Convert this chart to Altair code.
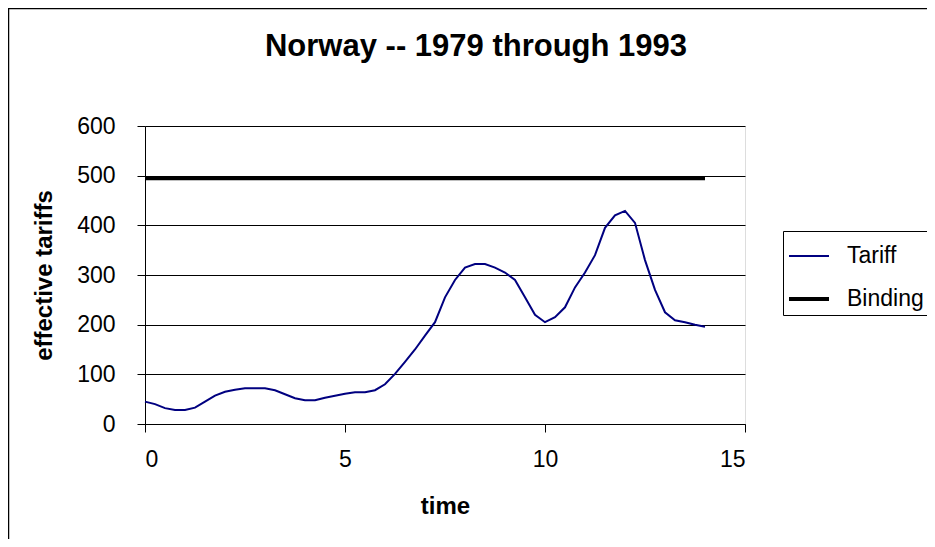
import altair as alt
import pandas as pd

# quarterly time steps 0 .. 14
time = [i * 0.25 for i in range(57)]
tariff = [45, 40, 32, 28, 28, 33, 45, 57, 65, 69, 72, 72, 72, 68, 60, 52,
          48, 48, 53, 57, 61, 64, 64, 68, 80, 101, 125, 150, 178, 205, 255, 290,
          315, 322, 322, 315, 305, 290, 255, 220, 205, 215, 235, 275, 305, 340, 395, 420,
          429, 405, 330, 270, 225, 209, 205, 200, 196]
binding = [495] * 57
series_names = ["Tariff", "Binding"]
x_ticks = [0, 5, 10, 15]
y_ticks = [0, 100, 200, 300, 400, 500, 600]

rows = []
for t, v in zip(time, tariff):
    rows.append({"time": t, "value": v, "series": "Tariff"})
for t, v in zip(time, binding):
    rows.append({"time": t, "value": v, "series": "Binding"})
df = pd.DataFrame(rows)

FONT = "Liberation Sans"

legend_opts = dict(title=None, orient="none", legendX=638, legendY=105,
                   symbolType="stroke", symbolSize=1600, labelFontSize=23,
                   labelFont=FONT, labelColor="black", labelOffset=16,
                   rowPadding=9, padding=4, strokeColor="black",
                   fillColor="white")

lines = alt.Chart(df).mark_line().encode(
    x=alt.X("time:Q", scale=alt.Scale(domain=[0, 15], nice=False, zero=False),
            axis=alt.Axis(values=x_ticks, title="time", grid=False, tickSize=8,
                          labelPadding=16, titlePadding=23, labelFontSize=23,
                          titleFontSize=24, titleFontWeight="bold", labelColor="black",
                          titleColor="black", domainColor="black", tickColor="black",
                          labelFont=FONT, titleFont=FONT)),
    y=alt.Y("value:Q", scale=alt.Scale(domain=[0, 600], nice=False),
            axis=alt.Axis(values=y_ticks, title="effective tariffs", grid=True,
                          gridColor="black", gridOpacity=1, gridWidth=1, tickSize=8,
                          labelPadding=22, titlePadding=20, labelFontSize=23,
                          titleFontSize=24, titleFontWeight="bold", labelColor="black",
                          titleColor="black", domainColor="black", tickColor="black",
                          labelFont=FONT, titleFont=FONT)),
    color=alt.Color("series:N", scale=alt.Scale(domain=series_names, range=["#000080", "#000000"]),
                    legend=alt.Legend(**legend_opts)),
    strokeWidth=alt.StrokeWidth("series:N", scale=alt.Scale(domain=series_names, range=[2, 4]),
                                legend=alt.Legend(**legend_opts)),
)

border = alt.Chart(alt.Data(values=[{"a": 1}])).mark_rect(
    fill=None, stroke="black", strokeWidth=1.5, clip=False
).encode(
    x=alt.value(-136.5), x2=alt.value(800), y=alt.value(-117.5), y2=alt.value(430)
)

chart = alt.layer(lines, border).properties(
    width=600, height=298,
    title=alt.TitleParams("Norway -- 1979 through 1993", fontSize=31, font=FONT,
                          fontWeight="bold", color="black", anchor="middle",
                          frame="group", dx=31, offset=-55),
    autosize=alt.AutoSizeParams(type="none"),
    padding={"left": 137, "top": 118, "right": 182, "bottom": 115},
).configure_view(stroke="black", strokeWidth=1).configure(background="white")

chart.save("out.html", embed_options={"renderer": "svg", "actions": False})
